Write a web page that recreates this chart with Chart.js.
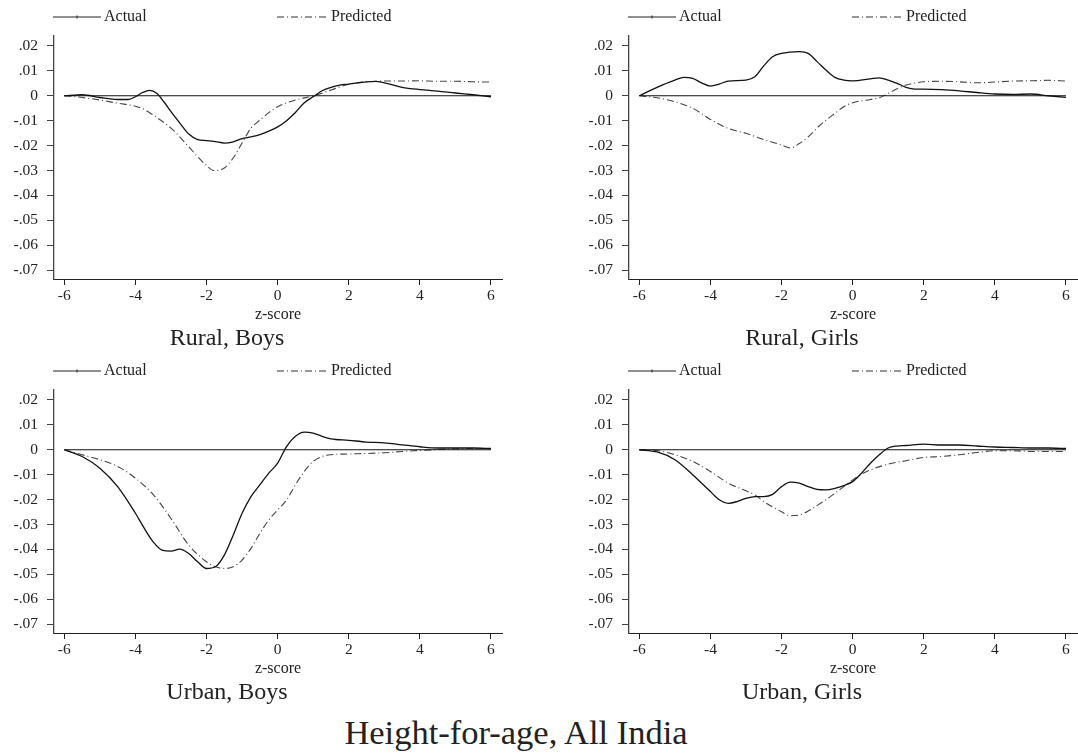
<!DOCTYPE html>
<html>
<head>
<meta charset="utf-8">
<script src="https://cdn.jsdelivr.net/npm/chart.js@4.4.1/dist/chart.umd.min.js"></script>
<style>
    body { margin: 0; background: #fff; width: 1078px; height: 754px; position: relative; overflow: hidden;
           font-family: "Liberation Serif", "DejaVu Serif", serif; color: #222; }
    .panel { position: absolute; width: 503px; height: 326px; }
    .panel canvas { width: 503px; height: 326px; }
    .legend { position: absolute; font-size: 16px; line-height: 16px; }
    .legend span { position: absolute; white-space: nowrap; }
    .legend svg { position: absolute; overflow: visible; }
    .subtitle { position: absolute; font-size: 24px; line-height: 24px; white-space: nowrap; transform: translateX(-50%); }
    #title { position: absolute; left: 516px; top: 715px; font-size: 34.5px; line-height: 34px; white-space: nowrap; transform: translateX(-50%); }
</style>
</head>
<body>
<div id="title">Height-for-age, All India</div>

<script>
// ==========================
// Data
// ==========================
const xTicks = [-6, -4, -2, 0, 2, 4, 6];
const yTicks = [0.02, 0.01, 0, -0.01, -0.02, -0.03, -0.04, -0.05, -0.06, -0.07];
const yTickLabels = ['.02', '.01', '0', '-.01', '-.02', '-.03', '-.04', '-.05', '-.06', '-.07'];
const seriesNames = ['Actual', 'Predicted'];

// Rural, Boys
const ruralBoysActualX = [-6, -5.5, -5, -4.5, -4.2, -4, -3.8, -3.6, -3.4, -3.2, -3, -2.75, -2.5, -2.25, -2, -1.75, -1.5, -1.25, -1, -0.75, -0.5, -0.25, 0, 0.25, 0.5, 0.75, 1, 1.25, 1.5, 1.75, 2, 2.5, 2.75, 3, 3.5, 4, 4.5, 5, 5.5, 6];
const ruralBoysActualY = [0, 0.0004, -0.0007, -0.0015, -0.0015, -0.0004, 0.0013, 0.0022, 0.001, -0.0024, -0.0064, -0.011, -0.0154, -0.0176, -0.018, -0.0184, -0.019, -0.0185, -0.0172, -0.0165, -0.0156, -0.0142, -0.0125, -0.010, -0.0067, -0.0028, -0.0004, 0.002, 0.0034, 0.0043, 0.0047, 0.0056, 0.0058, 0.0052, 0.0034, 0.0025, 0.0019, 0.0011, 0.0004, -0.0004];
const ruralBoysPredX = [-6, -5.5, -5, -4.5, -4, -3.75, -3.5, -3, -2.5, -2.25, -2, -1.8, -1.5, -1.25, -1, -0.75, -0.5, -0.25, 0, 0.5, 1, 1.5, 2, 2.5, 3, 3.5, 4, 4.5, 5, 5.5, 6];
const ruralBoysPredY = [0, -0.0007, -0.0017, -0.003, -0.0042, -0.0055, -0.0078, -0.013, -0.0205, -0.0245, -0.028, -0.030, -0.029, -0.025, -0.019, -0.013, -0.0098, -0.0068, -0.0044, -0.0017, -0.0001, 0.0023, 0.0046, 0.0056, 0.0059, 0.0059, 0.006, 0.0058, 0.0058, 0.0056, 0.0055];

// Rural, Girls
const ruralGirlsActualX = [-6, -5.5, -5, -4.75, -4.5, -4.25, -4, -3.75, -3.5, -3, -2.75, -2.5, -2.25, -2, -1.5, -1.25, -1, -0.75, -0.5, -0.25, 0, 0.5, 0.75, 1, 1.25, 1.5, 1.75, 2, 2.5, 3, 3.5, 4, 4.5, 5, 5.5, 6];
const ruralGirlsActualY = [0, 0.0034, 0.0063, 0.0074, 0.007, 0.0052, 0.0039, 0.0047, 0.0059, 0.0063, 0.0076, 0.012, 0.0157, 0.017, 0.0177, 0.017, 0.0137, 0.0103, 0.0074, 0.0063, 0.006, 0.0068, 0.0072, 0.0063, 0.005, 0.0034, 0.0027, 0.0027, 0.0025, 0.002, 0.0013, 0.0007, 0.0005, 0.0007, 0, -0.0007];
const ruralGirlsPredX = [-6, -5.5, -5, -4.5, -4, -3.5, -3, -2.5, -2, -1.75, -1.5, -1.25, -1, -0.75, -0.5, -0.25, 0, 0.5, 0.75, 1, 1.25, 1.5, 2, 2.5, 3, 3.5, 4, 4.5, 5, 5.5, 6];
const ruralGirlsPredY = [0, -0.0008, -0.0024, -0.005, -0.0095, -0.0131, -0.0151, -0.0176, -0.0198, -0.021, -0.0192, -0.0165, -0.0129, -0.0098, -0.0071, -0.0044, -0.0028, -0.0015, -0.0008, 0.0009, 0.0028, 0.0043, 0.0056, 0.0058, 0.0056, 0.0052, 0.0055, 0.0059, 0.006, 0.0062, 0.0059];

// Urban, Boys
const urbanBoysActualX = [-6, -5.5, -5, -4.5, -4, -3.75, -3.5, -3.25, -3, -2.75, -2.5, -2.25, -2, -1.75, -1.5, -1.25, -1, -0.75, -0.5, -0.25, 0, 0.25, 0.5, 0.75, 1, 1.25, 1.5, 2, 2.5, 3, 3.5, 4, 4.5, 5, 5.5, 6];
const urbanBoysActualY = [0, -0.0027, -0.0074, -0.0148, -0.0255, -0.0316, -0.037, -0.0403, -0.0407, -0.0399, -0.0417, -0.045, -0.0477, -0.047, -0.0423, -0.0343, -0.0255, -0.0188, -0.0141, -0.0094, -0.0054, 0.0013, 0.0054, 0.0071, 0.0067, 0.0054, 0.0044, 0.0038, 0.0031, 0.0028, 0.002, 0.0012, 0.0007, 0.0007, 0.0007, 0.0005];
const urbanBoysPredX = [-6, -5.5, -5, -4.5, -4, -3.5, -3, -2.5, -2, -1.75, -1.5, -1.25, -1, -0.75, -0.5, -0.25, 0, 0.25, 0.5, 0.75, 1, 1.25, 1.5, 2, 2.5, 3, 3.5, 4, 4.5, 5, 5.5, 6];
const urbanBoysPredY = [0, -0.002, -0.004, -0.0067, -0.0114, -0.018, -0.0276, -0.0383, -0.045, -0.047, -0.0477, -0.047, -0.0443, -0.0396, -0.0336, -0.0282, -0.0242, -0.0202, -0.0141, -0.0087, -0.0047, -0.0027, -0.002, -0.0017, -0.0015, -0.0012, -0.0007, -0.0003, 0.0001, 0.0004, 0.0005, 0.0005];

// Urban, Girls
const urbanGirlsActualX = [-6, -5.5, -5, -4.5, -4, -3.75, -3.5, -3.25, -3, -2.75, -2.5, -2.25, -2, -1.75, -1.5, -1.25, -1, -0.75, -0.5, -0.25, 0, 0.25, 0.5, 0.75, 1, 1.25, 1.5, 2, 2.5, 3, 3.5, 4, 4.5, 5, 5.5, 6];
const urbanGirlsActualY = [0, -0.0009, -0.004, -0.01, -0.0168, -0.0201, -0.0215, -0.0208, -0.0195, -0.0188, -0.0188, -0.0179, -0.0148, -0.013, -0.0134, -0.0148, -0.0159, -0.0161, -0.0155, -0.0144, -0.0128, -0.0094, -0.0054, -0.002, 0.0007, 0.0015, 0.0017, 0.0023, 0.0019, 0.0019, 0.0015, 0.0011, 0.0009, 0.0007, 0.0007, 0.0005];
const urbanGirlsPredX = [-6, -5.5, -5, -4.5, -4, -3.5, -3, -2.75, -2.5, -2, -1.75, -1.5, -1.25, -1, -0.75, -0.5, -0.25, 0, 0.25, 0.5, 1, 1.5, 2, 2.5, 3, 3.5, 4, 4.5, 5, 5.5, 6];
const urbanGirlsPredY = [0, -0.0003, -0.002, -0.0047, -0.0087, -0.0134, -0.0165, -0.0181, -0.0208, -0.0249, -0.0265, -0.0262, -0.0246, -0.0224, -0.0201, -0.0175, -0.0148, -0.0121, -0.0098, -0.0081, -0.0058, -0.0044, -0.0031, -0.0027, -0.002, -0.0011, -0.0004, -0.0004, -0.0007, -0.0007, -0.0007];

// ==========================
// Layout
// ==========================
const panels = [
    { title: 'Rural, Boys',  left: 0,   top: 0,   ax: ruralBoysActualX,  ay: ruralBoysActualY,  px: ruralBoysPredX,  py: ruralBoysPredY },
    { title: 'Rural, Girls', left: 575, top: 0,   ax: ruralGirlsActualX, ay: ruralGirlsActualY, px: ruralGirlsPredX, py: ruralGirlsPredY },
    { title: 'Urban, Boys',  left: 0,   top: 354, ax: urbanBoysActualX,  ay: urbanBoysActualY,  px: urbanBoysPredX,  py: urbanBoysPredY },
    { title: 'Urban, Girls', left: 575, top: 354, ax: urbanGirlsActualX, ay: urbanGirlsActualY, px: urbanGirlsPredX, py: urbanGirlsPredY }
];

const predDash = [7, 3, 1, 3];
const tickFont = { family: '"Liberation Serif", serif', size: 15.5 };

function zip(xs, ys) {
    return xs.map((x, i) => ({ x, y: ys[i] }));
}

function addLegend(p) {
    const lg = document.createElement('div');
    lg.className = 'legend';
    lg.style.left = p.left + 'px';
    lg.style.top = p.top + 'px';
    lg.innerHTML = `
        <svg width="1" height="1" style="left:0;top:0">
            <line x1="53" y1="17" x2="101" y2="17" stroke="#222" stroke-width="1.2"/>
            <line x1="77" y1="15.5" x2="77" y2="18.5" stroke="#222" stroke-width="1"/>
            <line x1="277" y1="17" x2="327" y2="17" stroke="#333" stroke-width="1.2" stroke-dasharray="${predDash.join(' ')}"/>
        </svg>
        <span style="left:104px;top:8px">${seriesNames[0]}</span>
        <span style="left:331px;top:8px">${seriesNames[1]}</span>`;
    document.body.appendChild(lg);

    const st = document.createElement('div');
    st.className = 'subtitle';
    st.textContent = p.title;
    st.style.left = (p.left + 227) + 'px';
    st.style.top = (p.top + 325) + 'px';
    document.body.appendChild(st);
}

function makeChart(p) {
    const wrap = document.createElement('div');
    wrap.className = 'panel';
    wrap.style.left = p.left + 'px';
    wrap.style.top = p.top + 'px';
    const canvas = document.createElement('canvas');
    canvas.width = 503;
    canvas.height = 326;
    wrap.appendChild(canvas);
    document.body.appendChild(wrap);

    new Chart(canvas.getContext('2d'), {
        type: 'line',
        data: {
            datasets: [
                {
                    label: 'zero',
                    data: zip([-6, 6], [0, 0]),
                    borderColor: '#111',
                    borderWidth: 1,
                    pointRadius: 0
                },
                {
                    label: seriesNames[0],
                    data: zip(p.ax, p.ay),
                    borderColor: '#111',
                    borderWidth: 1.3,
                    pointRadius: 0,
                    cubicInterpolationMode: 'monotone'
                },
                {
                    label: seriesNames[1],
                    data: zip(p.px, p.py),
                    borderColor: '#444',
                    borderWidth: 1.1,
                    borderDash: predDash,
                    pointRadius: 0,
                    cubicInterpolationMode: 'monotone'
                }
            ]
        },
        options: {
            responsive: false,
            animation: false,
            maintainAspectRatio: false,
            layout: { padding: { left: 0, top: 36, right: 1, bottom: 0 } },
            plugins: { legend: { display: false }, tooltip: { enabled: false } },
            scales: {
                x: {
                    type: 'linear',
                    min: -6.29,
                    max: 6.31,
                    afterBuildTicks: s => { s.ticks = xTicks.map(v => ({ value: v })); },
                    afterFit: s => { s.height = 47; },
                    ticks: { color: '#222', font: tickFont, padding: 2, maxRotation: 0, callback: v => String(v) },
                    grid: { drawOnChartArea: false, drawTicks: true, tickLength: 6, color: '#222' },
                    border: { color: '#222', width: 1 },
                    title: { display: true, text: 'z-score', color: '#222', font: { family: '"Liberation Serif", serif', size: 16 }, padding: { top: 0, bottom: 2 } }
                },
                y: {
                    type: 'linear',
                    min: -0.0736,
                    max: 0.024,
                    afterBuildTicks: s => { s.ticks = yTicks.map(v => ({ value: v })); },
                    afterFit: s => { s.width = 54; },
                    ticks: { color: '#222', font: tickFont, padding: 9, callback: v => yTickLabels[yTicks.findIndex(t => Math.abs(t - v) < 1e-9)] },
                    grid: { drawOnChartArea: false, drawTicks: true, tickLength: 7, color: '#444' },
                    border: { color: '#444', width: 1.3 }
                }
            }
        }
    });
}

panels.forEach(p => {
    makeChart(p);
    addLegend(p);
});
</script>
</body>
</html>
